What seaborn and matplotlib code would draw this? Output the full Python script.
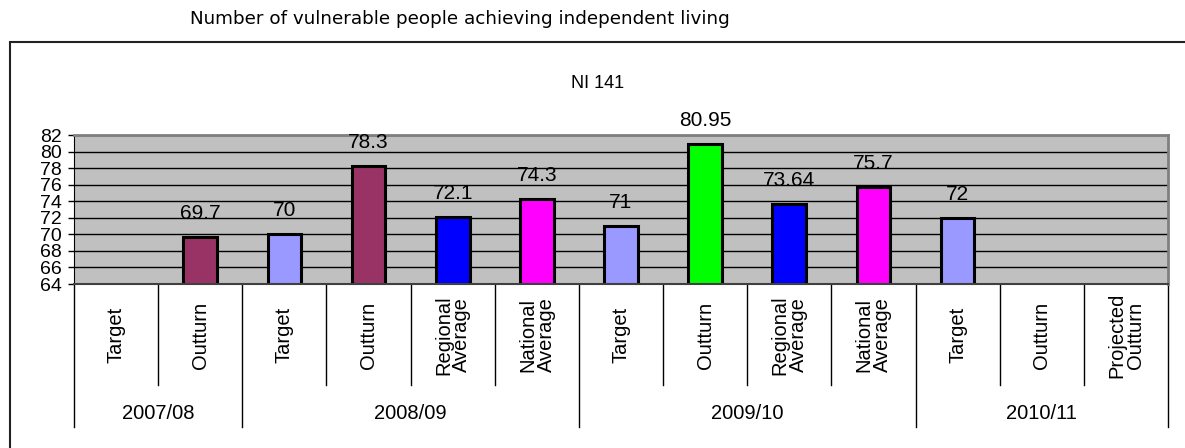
import numpy as np
import pandas as pd
import matplotlib
matplotlib.use("Agg")
import matplotlib.pyplot as plt
from matplotlib.patches import Rectangle
import seaborn as sns

# chart data
periods = ["2007/08", "2007/08",
           "2008/09", "2008/09", "2008/09", "2008/09",
           "2009/10", "2009/10", "2009/10", "2009/10",
           "2010/11", "2010/11", "2010/11"]
measures = ["Target", "Outturn",
            "Target", "Outturn", "Regional\nAverage", "National\nAverage",
            "Target", "Outturn", "Regional\nAverage", "National\nAverage",
            "Target", "Outturn", "Projected\nOutturn"]
values = [np.nan, 69.7,
          70, 78.3, 72.1, 74.3,
          71, 80.95, 73.64, 75.7,
          72, np.nan, np.nan]
y_ticks = list(range(64, 83, 2))

# bar fill colours, one per slot
bar_colors = ["#9999FF", "#993366",
              "#9999FF", "#993366", "#0000FF", "#FF00FF",
              "#9999FF", "#00FF00", "#0000FF", "#FF00FF",
              "#9999FF", "#993366", "#993366"]

plt.rcParams["font.family"] = ["Liberation Sans", "DejaVu Sans"]

df = pd.DataFrame({"period": periods, "measure": measures, "value": values})
df["slot"] = df["period"] + " " + df["measure"]
slots = list(df["slot"])
palette = dict(zip(slots, bar_colors))
plotted = df.dropna(subset=["value"])

W, H = 1185, 448
fig = plt.figure(figsize=(W / 100, H / 100), dpi=100)
ax = fig.add_axes([74 / W, 1 - 284 / H, (1168 - 74) / W, (284 - 135) / H])

sns.barplot(data=plotted, x="slot", y="value", hue="slot", order=slots,
            hue_order=list(plotted["slot"]), palette=palette, width=0.4,
            edgecolor="black", linewidth=2.2, saturation=1, legend=False, ax=ax)

ax.set_xlim(-0.5, len(slots) - 0.5)
ax.set_ylim(64, 82)
ax.set_yticks(y_ticks)
ax.set_facecolor("#C0C0C0")
ax.yaxis.grid(True, color="black", linewidth=1)
ax.set_axisbelow(True)
for side in ["top", "right"]:
    ax.spines[side].set_color("#808080")
    ax.spines[side].set_linewidth(2)
ax.spines["left"].set_color("black")
ax.spines["bottom"].set_color("#404040")
ax.spines["bottom"].set_linewidth(1.5)
ax.tick_params(axis="y", length=4.5, width=1, pad=4, labelsize=14)
ax.tick_params(axis="x", length=0, labelbottom=False)
ax.set_xlabel("")
ax.set_ylabel("")

# value labels above bars
for container in ax.containers:
    for bar in container:
        h = bar.get_height()
        if np.isnan(h):
            continue
        ax.annotate(f"{h:g}", (bar.get_x() + bar.get_width() / 2, h),
                    xytext=(0, 17), textcoords="offset points",
                    ha="center", va="center", fontsize=15, annotation_clip=False)

# two-level category axis drawn by hand
trans = ax.get_xaxis_transform()
inner_end = (284 - 385) / (284 - 135)
group_end = (284 - 427) / (284 - 135)
for i in range(len(slots) + 1):
    if 0 < i < len(slots) and periods[i] == periods[i - 1]:
        y_end = inner_end
    else:
        y_end = group_end
    ax.plot([i - 0.5, i - 0.5], [0, y_end], color="black", linewidth=1,
            transform=trans, clip_on=False)

for i, m in enumerate(measures):
    ax.text(i, (284 - 335) / (284 - 135), m, rotation=90, ha="center", va="center",
            fontsize=14.5, linespacing=0.95, transform=trans)

for p in dict.fromkeys(periods):
    idx = [i for i, q in enumerate(periods) if q == p]
    ax.text(np.mean(idx), (284 - 413) / (284 - 135), p, ha="center", va="center",
            fontsize=14.5, transform=trans)

# outer chart frame and titles
fig.patches.append(Rectangle((10 / W, -0.1), 1.2, (H - 42) / H + 0.1,
                             transform=fig.transFigure, fill=False,
                             edgecolor="#222222", linewidth=1.5))
fig.text(460 / W, 1 - 19 / H, "Number of vulnerable people achieving independent living",
         ha="center", va="center", fontsize=13.2, family="DejaVu Sans")
fig.text(598 / W, 1 - 83 / H, "NI 141", ha="center", va="center", fontsize=13)

fig.savefig("out.png", dpi=100)
